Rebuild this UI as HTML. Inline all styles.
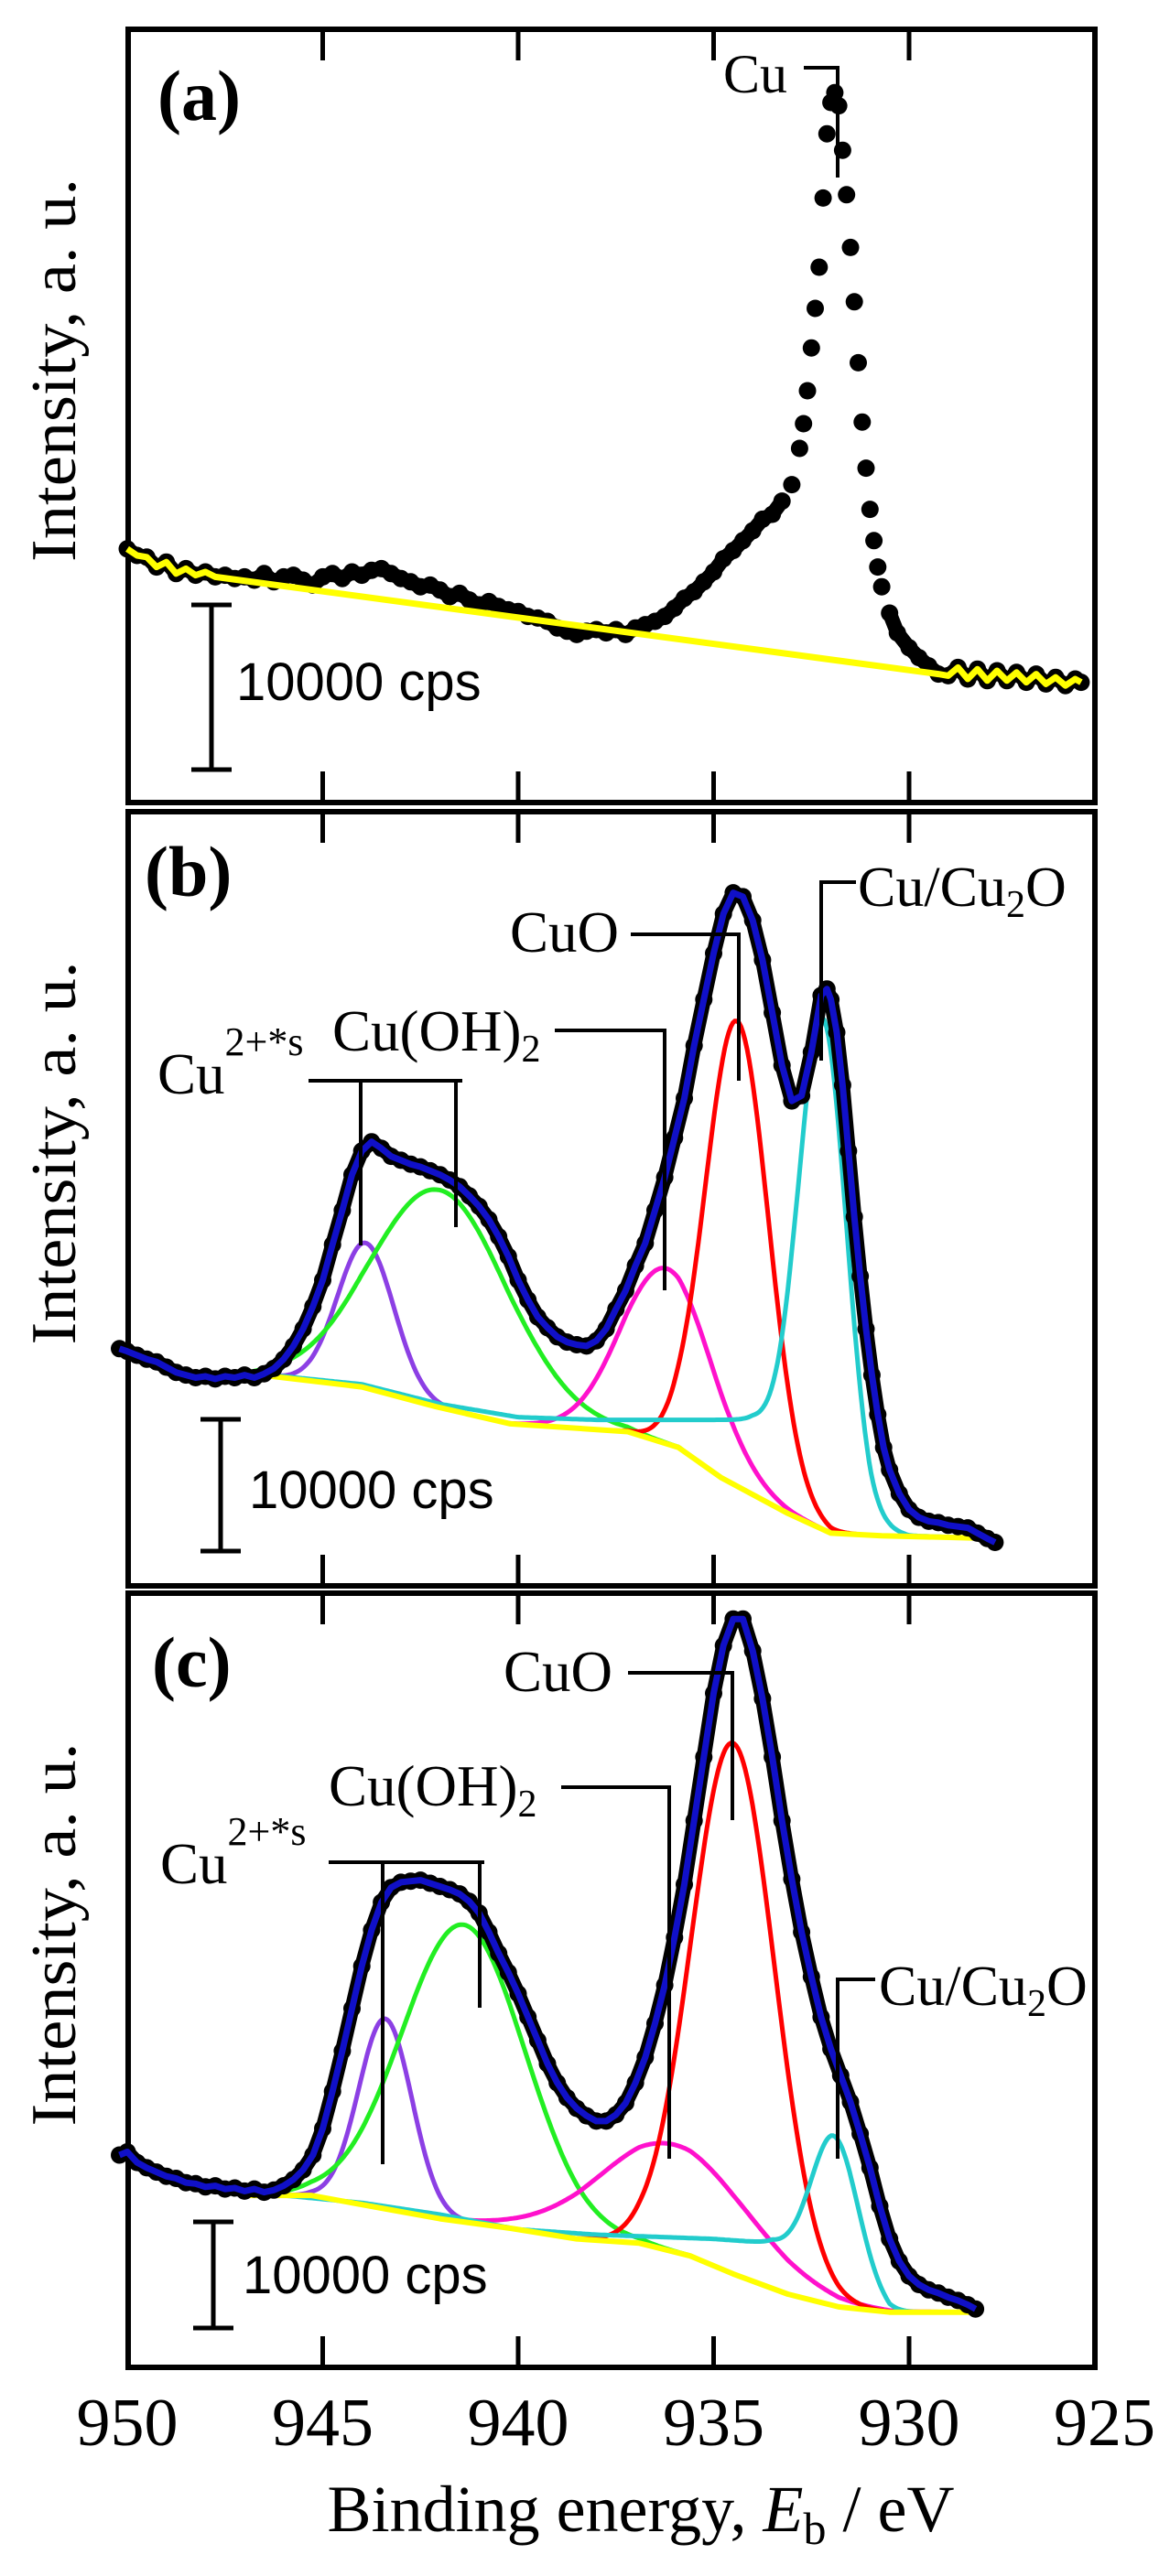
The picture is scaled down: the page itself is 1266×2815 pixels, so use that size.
<!DOCTYPE html>
<html><head><meta charset="utf-8"><style>
html,body{margin:0;padding:0;background:#fff;}
svg{display:block;}
.ser{font-family:"Liberation Serif","DejaVu Serif",serif;}
.san{font-family:"Liberation Sans","DejaVu Sans",sans-serif;}
</style></head><body>
<svg id="fig" width="1266" height="2815" viewBox="0 0 1266 2815" xmlns="http://www.w3.org/2000/svg">
<g id="layer"></g>
<g class="ser" fill="#000">
  <text x="172" y="131" font-size="78" font-weight="bold">(a)</text>
  <text x="790" y="101" font-size="60">Cu</text>
  <path d="M878 74H915V194" stroke="#000" stroke-width="4" fill="none"/>

  <text x="158" y="979" font-size="78" font-weight="bold">(b)</text>
  <text x="937" y="990" font-size="62">Cu/Cu<tspan font-size="42" dy="12">2</tspan><tspan dy="-12">O</tspan></text>
  <path d="M935 964H897V1159" stroke="#000" stroke-width="4" fill="none"/>
  <text x="557" y="1040" font-size="63">CuO</text>
  <path d="M689 1021H807V1181" stroke="#000" stroke-width="4" fill="none"/>
  <text x="363" y="1148" font-size="63">Cu(OH)<tspan font-size="42" dy="12">2</tspan></text>
  <path d="M606 1126H726V1410" stroke="#000" stroke-width="4" fill="none"/>
  <text x="172" y="1195" font-size="63">Cu<tspan font-size="44" dy="-42">2+*s</tspan></text>
  <path d="M337 1181H505M394 1181V1361M498 1181V1341" stroke="#000" stroke-width="4" fill="none"/>

  <text x="166" y="1843" font-size="78" font-weight="bold">(c)</text>
  <text x="550" y="1848" font-size="63">CuO</text>
  <path d="M686 1828H800V1989" stroke="#000" stroke-width="4" fill="none"/>
  <text x="359" y="1973" font-size="63">Cu(OH)<tspan font-size="42" dy="12">2</tspan></text>
  <path d="M613 1953H731V2359" stroke="#000" stroke-width="4" fill="none"/>
  <text x="175" y="2058" font-size="63">Cu<tspan font-size="44" dy="-42">2+*s</tspan></text>
  <path d="M359 2035H529M418 2035V2365M524 2035V2194" stroke="#000" stroke-width="4" fill="none"/>
  <text x="960" y="2191" font-size="62">Cu/Cu<tspan font-size="42" dy="12">2</tspan><tspan dy="-12">O</tspan></text>
  <path d="M956 2163H915V2359" stroke="#000" stroke-width="4" fill="none"/>

  <text x="700" y="2766" font-size="72" text-anchor="middle">Binding energy, <tspan font-style="italic">E</tspan><tspan font-size="50" dy="14">b</tspan><tspan dy="-14"> / eV</tspan></text>
</g>
</svg>
<script>
// ---------- data (binding energy in eV, intensity in kcps) ----------
const xTicks = [950, 945, 940, 935, 930, 925];
const innerTicks = [945, 940, 935, 930];

const aEnergy = [950.0,949.75,949.5,949.25,949.0,948.75,948.5,948.25,948.0,947.75,947.5,947.25,947.0,946.75,946.5,946.25,946.0,945.75,945.5,945.25,945.0,944.75,944.5,944.25,944.0,943.75,943.5,943.25,943.0,942.75,942.5,942.25,942.0,941.75,941.5,941.25,941.0,940.75,940.5,940.25,940.0,939.75,939.5,939.25,939.0,938.75,938.5,938.25,938.0,937.75,937.5,937.25,937.0,936.75,936.5,936.25,936.0,935.75,935.5,935.25,935.0,934.75,934.5,934.25,934.0,933.75,933.5,933.25,933.0,932.8,932.7,932.6,932.5,932.4,932.3,932.2,932.1,932.0,931.9,931.8,931.7,931.6,931.5,931.4,931.3,931.2,931.1,931.0,930.9,930.8,930.7,930.5,930.3,930.0,929.75,929.5,929.25,929.0,928.75,928.5,928.25,928.0,927.75,927.5,927.25,927.0,926.75,926.5,926.25,926.0,925.75,925.6];
const aCounts = [15.4,15.0,14.9,14.3,14.6,13.9,14.2,13.8,14.0,13.7,13.8,13.6,13.7,13.5,13.9,13.4,13.7,13.8,13.5,13.2,13.7,13.9,13.6,14.0,13.8,14.1,14.2,13.9,13.6,13.4,13.1,13.2,12.9,12.5,12.7,12.3,12.0,12.2,11.9,11.7,11.6,11.3,11.2,11.0,10.6,10.4,10.2,10.4,10.5,10.3,10.5,10.2,10.6,10.8,11.0,11.3,11.8,12.4,12.8,13.4,14.0,14.8,15.3,15.9,16.5,17.2,17.5,18.3,19.3,21.5,23.0,25.0,27.6,30.0,32.5,36.7,40.6,42.5,43.1,42.3,39.6,36.9,33.7,30.4,26.7,23.1,20.3,17.8,15.9,14.3,13.1,11.5,10.3,9.4,8.8,8.3,7.8,7.7,8.2,7.5,8.1,7.4,8.0,7.4,7.9,7.3,7.8,7.2,7.6,7.1,7.5,7.3];

const bEnergy = [950.2,950.0,949.75,949.5,949.25,949.0,948.75,948.5,948.25,948.0,947.75,947.5,947.25,947.0,946.75,946.5,946.25,946.0,945.75,945.5,945.25,945.0,944.75,944.5,944.25,944.0,943.75,943.5,943.25,943.0,942.75,942.5,942.25,942.0,941.75,941.5,941.25,941.0,940.75,940.5,940.25,940.0,939.75,939.5,939.25,939.0,938.75,938.5,938.25,938.0,937.75,937.5,937.25,937.0,936.75,936.5,936.25,936.0,935.75,935.5,935.25,935.0,934.75,934.5,934.25,934.0,933.75,933.5,933.25,933.0,932.75,932.5,932.25,932.1,932.0,931.85,931.7,931.55,931.4,931.25,931.1,930.95,930.8,930.65,930.5,930.25,930.0,929.75,929.5,929.25,929.0,928.75,928.5,928.25,928.0,927.8];
const bCounts = [18.0,17.8,17.5,17.2,17.0,16.6,16.2,16.0,15.8,15.9,15.7,15.9,15.8,16.0,15.8,16.1,16.5,17.2,18.2,19.5,21.2,23.2,25.9,28.5,31.2,33.0,33.7,33.2,32.6,32.3,32.0,31.8,31.5,31.2,30.8,30.3,29.6,28.8,27.8,26.5,25.0,23.2,21.7,20.4,19.6,18.9,18.5,18.3,18.2,18.6,19.5,21.0,22.4,24.3,26.0,28.5,31.0,34.0,37.0,41.0,44.5,48.0,51.0,52.6,52.3,50.5,47.5,43.5,39.5,36.8,37.2,40.5,44.8,45.3,44.5,42.0,38.0,33.0,28.0,23.5,19.5,16.0,13.0,10.5,8.8,7.0,5.8,5.2,4.9,4.8,4.6,4.5,4.4,4.0,3.6,3.3];
const bBackE = [948.6,946.3,944.0,942.1,940.2,937.2,935.9,934.8,933.1,932.0,930.7,927.8];
const bBackI = [15.9,15.9,15.1,13.6,12.3,11.7,10.5,8.2,5.5,4.0,3.8,3.6];
const bCyanBaseE = [948.6,946.0,944.0,942.0,940.0,938.0,934.0,933.0,932.0,931.0,930.0,927.8];
const bCyanBaseI = [15.9,15.9,15.3,13.8,12.8,12.6,12.6,11.5,8.0,4.5,3.8,3.6];
const bCenters = [943.9, 942.0, 936.2, 934.4, 932.2];
const bHeights = [11.0, 16.5, 13.3, 35.3, 34.4];
const bFwhm = [1.7, 4.1, 2.7, 1.9, 1.4];

const cEnergy = [950.2,950.0,949.75,949.5,949.25,949.0,948.75,948.5,948.25,948.0,947.75,947.5,947.25,947.0,946.75,946.5,946.25,946.0,945.75,945.5,945.25,945.0,944.75,944.5,944.25,944.0,943.75,943.5,943.25,943.0,942.75,942.5,942.25,942.0,941.75,941.5,941.25,941.0,940.75,940.5,940.25,940.0,939.75,939.5,939.25,939.0,938.75,938.5,938.25,938.0,937.75,937.5,937.25,937.0,936.75,936.5,936.25,936.0,935.75,935.5,935.25,935.0,934.75,934.5,934.25,934.0,933.75,933.5,933.25,933.0,932.75,932.5,932.25,932.0,931.75,931.5,931.25,931.0,930.75,930.5,930.25,930.0,929.75,929.5,929.25,929.0,928.75,928.5,928.3];
const cCounts = [20.0,20.3,19.3,18.8,18.4,18.0,17.8,17.4,17.3,17.0,17.1,16.8,16.9,16.6,16.8,16.5,16.7,17.1,17.7,18.6,20.0,22.5,26.0,29.8,33.8,37.8,41.2,43.8,45.2,45.7,45.8,45.9,45.6,45.3,45.0,44.6,43.9,42.8,41.0,39.0,37.2,35.2,33.0,30.8,28.6,26.8,25.4,24.4,23.7,23.2,23.2,23.8,24.9,26.8,29.2,32.4,36.0,40.5,45.5,51.5,57.5,63.5,68.0,70.5,70.5,67.5,63.0,57.5,51.5,46.0,41.0,36.8,33.0,30.0,27.5,25.0,22.0,18.8,15.2,12.1,10.0,8.6,7.8,7.3,7.0,6.6,6.3,5.9,5.5];
const cBackE = [947.0,945.3,943.5,942.0,940.2,938.5,936.9,935.6,934.5,933.1,931.8,930.5,928.3];
const cBackI = [16.2,16.2,15.0,14.0,13.1,12.1,11.7,10.5,8.8,6.9,5.7,5.2,5.2];
const cCyanBaseE = [947.0,946.0,944.0,942.0,940.0,938.0,935.0,933.5,932.0,930.5,928.3];
const cCyanBaseI = [16.2,16.2,15.5,14.4,13.0,12.5,12.1,11.7,9.0,5.2,5.2];
const cCenters = [943.4, 941.4, 936.0, 934.5, 931.9];
const cHeights = [17.9, 28.0, 10.1, 50.0, 13.0];
const cFwhm = [1.6, 3.7, 4.5, 2.5, 1.4];

const compColors = ['#8c3fe4', '#22ee22', '#ff11cc', '#ff0000', '#22cccc'];
const compNames = ['cu2-satellite', 'cuoh2', 'cuo-shoulder', 'cuo', 'cu-cu2o'];

// ---------- layout ----------
const NS = 'http://www.w3.org/2000/svg';
const layer = document.getElementById('layer');
const X0 = 139, PX_PER_EV = 42.7;
const xScale = E => X0 + (950 - E) * PX_PER_EV;
const FRAME_L = 140, FRAME_R = 1196;
const DOT_R = 9.5;
const panels = [
  {id:'a', top:32, bottom:877, pxPerK:18.0, barX:231, barTop:661, textX:258, textY:765},
  {id:'b', top:887, bottom:1733, pxPerK:14.4, barX:241, barTop:1551, textX:272, textY:1648},
  {id:'c', top:1741, bottom:2587, pxPerK:11.6, barX:233, barTop:2428, textX:265, textY:2506}
];

function mk(tag, attrs, parent) {
  const el = document.createElementNS(NS, tag);
  for (const k in attrs) el.setAttribute(k, attrs[k]);
  (parent || layer).appendChild(el);
  return el;
}
function interp(E, xs, ys) {
  if (E >= xs[0]) return ys[0];
  if (E <= xs[xs.length-1]) return ys[ys.length-1];
  for (let i = 0; i < xs.length - 1; i++) {
    if (E <= xs[i] && E >= xs[i+1]) {
      const t = (xs[i] - E) / (xs[i] - xs[i+1]);
      return ys[i] + t * (ys[i+1] - ys[i]);
    }
  }
  return ys[0];
}
function pathFrom(es, is, yS) {
  return es.map((e, i) => (i ? 'L' : 'M') + xScale(e).toFixed(1) + ' ' + yS(is[i]).toFixed(1)).join('');
}

panels.forEach(p => {
  const yS = v => p.bottom - v * p.pxPerK;
  p.yS = yS;
  const fr = mk('rect', {x:FRAME_L, y:p.top, width:FRAME_R-FRAME_L, height:p.bottom-p.top, fill:'none', stroke:'#000', 'stroke-width':6});
  
  
  innerTicks.forEach(t => {
    const tk = mk('path', {d:'M'+xScale(t)+' '+p.top+'v34M'+xScale(t)+' '+p.bottom+'v-34', stroke:'#000', 'stroke-width':5});
    
    
  });
  const cy = p.top + (p.bottom-p.top)/2 - 50;
  const yl = mk('text', {x:82, y:cy, 'font-size':70, 'text-anchor':'middle', class:'ser', transform:'rotate(-90 82 '+cy+')', textLength:419, lengthAdjust:'spacingAndGlyphs'});
  yl.textContent = 'Intensity, a. u.';
  
  
  const len = 10 * p.pxPerK;
  const sb = mk('path', {d:'M'+p.barX+' '+p.barTop+'v'+len+'M'+(p.barX-22)+' '+p.barTop+'h44M'+(p.barX-22)+' '+(p.barTop+len)+'h44', stroke:'#000', 'stroke-width':5, fill:'none'});
  
  
  const st = mk('text', {x:p.textX, y:p.textY, 'font-size':58, class:'san'});
  st.textContent = '10000 cps';
  
  
});

xTicks.forEach(t => {
  const tl = mk('text', {x:xScale(t), y:2672, 'font-size':74, 'text-anchor':'middle', class:'ser'});
  tl.textContent = String(t);
  
  
});

function drawBand(p, es, is, width) {
  const band = mk('path', {d:pathFrom(es, is, p.yS), fill:'none', stroke:'#000', 'stroke-width':width, 'stroke-linejoin':'round', 'stroke-linecap':'round'});
  
  
}
function drawDots(p, es, is) {
  const g = mk('g', {fill:'#000'});
  
  
  es.forEach((e, i) => {
    const c = mk('circle', {cx:xScale(e).toFixed(1), cy:p.yS(is[i]).toFixed(1), r:DOT_R}, g);
    
    
  });
}

// ---- panel a ----
(function(){
  const p = panels[0];
  const le = [], li = [], re = [], ri = [];
  aEnergy.forEach((e, i) => {
    if (e >= 933.2) { le.push(e); li.push(aCounts[i]); }
    if (e <= 930.5) { re.push(e); ri.push(aCounts[i]); }
  });
  drawBand(p, le, li, 16);
  drawBand(p, re, ri, 16);
  drawDots(p, aEnergy, aCounts);
  const ye = [], yi = [];
  aEnergy.forEach((e, i) => { if (e >= 947.75 || e <= 929.25) { ye.push(e); yi.push(aCounts[i]); } });
  const yl = mk('path', {d:pathFrom(ye, yi, p.yS), fill:'none', stroke:'#ffff00', 'stroke-width':7, 'stroke-linejoin':'round'});
  
  
})();

function drawFit(p, es, is, backE, backI, cyanE, cyanI, centers, heights, fwhm) {
  centers.forEach((c, k) => {
    const isCyan = k === 4;
    const bx = isCyan ? cyanE : backE, by = isCyan ? cyanI : backI;
    const e0 = bx[0], e1 = bx[bx.length-1];
    let d = '';
    for (let j = 0; j <= 400; j++) {
      const e = e0 - (e0 - e1) * j / 400;
      const v = interp(e, bx, by) + heights[k] * Math.exp(-4 * Math.LN2 * Math.pow((e - c) / fwhm[k], 2));
      d += (j ? 'L' : 'M') + xScale(e).toFixed(1) + ' ' + p.yS(v).toFixed(1);
    }
    const cp = mk('path', {d:d, fill:'none', stroke:compColors[k], 'stroke-width':5});
    
    
  });
  const yb = mk('path', {d:pathFrom(backE, backI, p.yS), fill:'none', stroke:'#ffff00', 'stroke-width':6, 'stroke-linejoin':'round'});
  
  
  drawBand(p, es, is, 16);
  drawDots(p, es, is);
  const env = mk('path', {d:pathFrom(es, is, p.yS), fill:'none', stroke:'#1010c8', 'stroke-width':7, 'stroke-linejoin':'round'});
  
  
}
drawFit(panels[1], bEnergy, bCounts, bBackE, bBackI, bCyanBaseE, bCyanBaseI, bCenters, bHeights, bFwhm);
drawFit(panels[2], cEnergy, cCounts, cBackE, cBackI, cCyanBaseE, cCyanBaseI, cCenters, cHeights, cFwhm);
</script>
</body></html>
